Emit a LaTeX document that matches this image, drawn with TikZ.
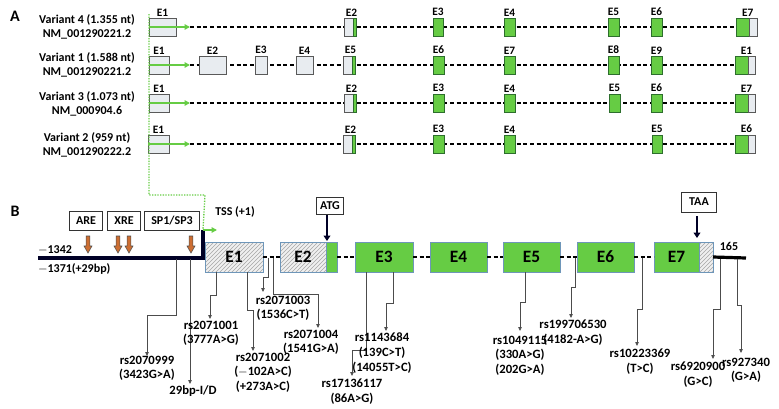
\documentclass[tikz,border=0pt]{standalone}
\usepackage{fontspec}
\setmainfont{Carlito}
\usetikzlibrary{patterns,backgrounds,arrows.meta,calc}
\definecolor{gx}{RGB}{102,204,68}
\definecolor{gb}{RGB}{45,110,45}
\definecolor{lg}{RGB}{232,236,240}
\definecolor{bb}{RGB}{110,150,185}
\definecolor{og}{RGB}{205,110,50}
\tikzset{
  x=0.75pt,y=-0.75pt,
  every node/.style={font=\bfseries\fontsize{9}{10.5}\selectfont, inner sep=0pt, outer sep=0pt},
  exw/.style={draw=gray!70!black, fill=lg, minimum height=18*0.75pt, anchor=west, line width=0.6pt},
  exg/.style={draw=gb, fill=gx, minimum height=18*0.75pt, anchor=west, line width=0.6pt},
  bw/.style={draw=bb, line width=0.7pt, minimum height=30*0.75pt, anchor=west, preaction={fill=gray!12}, pattern=north east lines, pattern color=gray!70, font=\bfseries\fontsize{13}{14}\selectfont},
  bg/.style={draw=bb, line width=0.7pt, fill=gx, minimum height=30*0.75pt, anchor=west, font=\bfseries\fontsize{13}{14}\selectfont},
  lbl/.style={font=\bfseries\fontsize{8.5}{9}\selectfont, anchor=south, yshift=1.5pt},
  intr/.style={line width=1.1pt, dash pattern=on 3pt off 2pt},
  tss/.style={-{Triangle[length=4pt,width=4pt]}, draw=gx, line width=1.4pt},
  lead/.style={draw=gray!60!black, line width=0.6pt, -{Triangle[length=3pt,width=2.6pt]}},
  snp/.style={font=\bfseries\fontsize{9.5}{11}\selectfont, align=center, anchor=north},
  pbox/.style={draw=black!80, fill=white, line width=0.6pt, minimum height=19*0.75pt, font=\bfseries\fontsize{9}{10}\selectfont},
  oarr/.style={draw=black!70, fill=og, line width=0.4pt},
}
\newcommand\ewx[5]{\node[exw, minimum width=(#3-#2)*0.75pt] (#1) at (#2,#4) {}; \node[lbl] at (#1.north) {#5};}
\newcommand\egx[5]{\node[exg, minimum width=(#3-#2)*0.75pt] (#1) at (#2,#4) {}; \node[lbl] at (#1.north) {#5};}
\newcommand\emx[6]{\node[exw, minimum width=(#3-#2)*0.75pt] (#1w) at (#2,#5) {}; \node[exg, minimum width=(#4-#3)*0.75pt] (#1) at (#3,#5) {}; \node[lbl] at ($(#1w.north)!0.5!(#1.north)$) {#6};}
\newcommand\gmx[6]{\node[exg, minimum width=(#3-#2)*0.75pt] (#1) at (#2,#5) {}; \node[exw, minimum width=(#4-#3)*0.75pt] (#1w) at (#3,#5) {}; \node[lbl] at ($(#1.north)!0.5!(#1w.north)$) {#6};}
\begin{document}
\begin{tikzpicture}
\useasboundingbox (0,0) rectangle (779,408);
\node[font=\bfseries\fontsize{12}{13}\selectfont] (A) at (15,16) {A};
\node[font=\bfseries\fontsize{12}{13}\selectfont] (B) at (15,211) {B};
% ---------- panel A ----------
\node[align=center] (v4) at (87,27) {Variant 4 (1.355 nt)\\NM\_001290221.2};
\node[align=center] (v1) at (87,65) {Variant 1 (1.588 nt)\\NM\_001290221.2};
\node[align=center] (v3) at (87,104) {Variant 3 (1.073 nt)\\NM\_000904.6};
\node[align=center] (v2) at (87,145) {Variant 2 (959 nt)\\NM\_001290222.2};
\ewx{r1e1}{149}{176}{27}{E1}
\emx{r1e2}{344}{353}{356}{27}{E2}
\egx{r1e3}{433}{443}{27}{E3}
\egx{r1e4}{504}{515}{27}{E4}
\egx{r1e5}{608}{619}{27}{E5}
\egx{r1e6}{651}{662}{27}{E6}
\gmx{r1e7}{736}{749}{757}{27}{E7}
\coordinate (r1a) at (190,27);
\ewx{r2e1}{149}{169}{65}{E1}
\ewx{r2e2}{199}{226}{65}{E2}
\ewx{r2e3}{255}{267}{65}{E3}
\ewx{r2e4}{296}{313}{65}{E4}
\emx{r2e5}{343}{352}{355}{65}{E5}
\egx{r2e6}{433}{444}{65}{E6}
\egx{r2e7}{504}{515}{65}{E7}
\egx{r2e8}{608}{619}{65}{E8}
\egx{r2e9}{651}{662}{65}{E9}
\gmx{r2e10}{735}{748}{755}{65}{E1}
\coordinate (r2a) at (190,65);
\ewx{r3e1}{149}{169}{103}{E1}
\emx{r3e2}{344}{353}{356}{103}{E2}
\egx{r3e3}{433}{444}{103}{E3}
\egx{r3e4}{504}{515}{103}{E4}
\egx{r3e5}{609}{620}{103}{E5}
\egx{r3e6}{651}{662}{103}{E6}
\gmx{r3e7}{735}{748}{755}{103}{E7}
\coordinate (r3a) at (190,103);
\ewx{r4e1}{148}{169}{144}{E1}
\emx{r4e2}{343}{352}{355}{144}{E2}
\egx{r4e3}{433}{444}{144}{E3}
\egx{r4e4}{504}{515}{144}{E4}
\egx{r4e5}{652}{662}{144}{E5}
\gmx{r4e6}{735}{748}{755}{144}{E6}
\coordinate (r4a) at (190,144);
\begin{scope}[on background layer]
\foreach \r/\l in {1/r1e7,2/r2e10,3/r3e7,4/r4e6}{
  \draw[intr] (r\r a) -- (\l.west);}
\end{scope}
\foreach \r in {1,2,3,4}{\draw[tss] (r\r e1.west) -- (r\r a);}
\coordinate (d0) at (149,14);
\coordinate (d1) at (149,195);
\coordinate (d2) at (205,195);
\coordinate (tssp) at (203,230);
\draw[gx, densely dotted, line width=1pt] (d0) -- (d1) -- (d2) -- (tssp);
% ---------- panel B ----------
\coordinate (p0) at (38,258);
\coordinate (p1) at (203,258);
\draw[line width=2.4pt, black!85!blue] (p0) -- (p1) -- (tssp);
\coordinate (tsse) at (217,230);
\draw[tss] (tssp) -- (tsse);
\node (tsst) at (235,212) {TSS (+1)};
\node[anchor=west] (m1342) at (38,250) {$-$1342};
\node[anchor=west] (m1371) at (38,269) {$-$1371(+29bp)};
\node[pbox, minimum width=33*0.75pt] (are) at (86,221) {ARE};
\node[pbox, minimum width=33*0.75pt] (xre) at (124,221) {XRE};
\node[pbox, minimum width=55*0.75pt] (sp) at (172,221) {SP1/SP3};
\foreach \x in {88,118,129,191}{
  \draw[oarr] (\x-1.8,236) -- (\x+1.8,236) -- (\x+1.8,246) -- (\x+4,246) -- (\x,253) -- (\x-4,246) -- (\x-1.8,246) -- cycle;}
\node[bw, minimum width=58*0.75pt] (b1) at (205,257) {E1};
\node[bw, minimum width=46*0.75pt] (b2) at (280,257) {E2};
\node[bg, minimum width=11*0.75pt] (b2g) at (326,257) {};
\node[bg, minimum width=58*0.75pt] (b3) at (355,257) {E3};
\node[bg, minimum width=57*0.75pt] (b4) at (430,257) {E4};
\node[bg, minimum width=57*0.75pt] (b5) at (503,257) {E5};
\node[bg, minimum width=57*0.75pt] (b6) at (577,257) {E6};
\node[bg, minimum width=45*0.75pt] (b7) at (654,257) {E7};
\node[bw, minimum width=14*0.75pt] (b7w) at (699,257) {};
\coordinate (tail) at (746,258);
\draw[line width=2.4pt] (b7w.east) -- (tail);
\node (n165) at (729,246) {165};
\draw[intr] (b1.east) -- (b2.west);
\draw[intr] (b2g.east) -- (b3.west);
\draw[intr] (b3.east) -- (b4.west);
\draw[intr] (b4.east) -- (b5.west);
\draw[intr] (b5.east) -- (b6.west);
\draw[intr] (b6.east) -- (b7.west);
\node[pbox, minimum width=27*0.75pt, minimum height=17*0.75pt] (atg) at (330,206) {ATG};
\node[pbox, minimum width=35*0.75pt, minimum height=20*0.75pt] (taa) at (699,202) {TAA};
\coordinate (atge) at (327,241);
\coordinate (taae) at (697,238);
\draw[-{Triangle[length=4pt,width=5pt]}, line width=1.8pt, black!85!blue] (327,215) -- (atge);
\draw[-{Triangle[length=4pt,width=5pt]}, line width=1.8pt, black!85!blue] (697,216) -- (taae);
% SNPs
\node[snp] (s1) at (147,356) {rs2070999\\(3423G>A)};
\draw[lead] (176,259) -- (176,315) -- (147,315) -- (s1.north);
\node[snp] (s2) at (193,386) {29bp-I/D};
\draw[lead] (190,259) -- (190,384);
\node[snp] (s3) at (211,321) {rs2071001\\(3777A>G)};
\draw[lead] (216,272) -- (216,295) -- (210,295) -- (210,319);
\node[snp] (s4) at (263,353) {rs2071002\\($-$102A>C)\\(+273A>C)};
\draw[lead] (247,272) -- (247,310) -- (253,310) -- (253,351);
\node[snp] (s5) at (283,296) {rs2071003\\(1536C>T)};
\draw[lead] (268,258) -- (268,277) -- (263,277) -- (263,292);
\node[snp] (s6) at (311,330) {rs2071004\\(1541G>A)};
\draw[lead] (273,258) -- (273,294) -- (318,294) -- (318,328);
\node[snp] (s7) at (352,379) {rs17136117\\(86A>G)};
\draw[lead] (366,272) -- (366,350) -- (352,350) -- (352,376);
\node[snp] (s8) at (382,333) {rs1143684\\(139C>T)\\(14055T>C)};
\draw[lead] (393,272) -- (393,303) -- (386,303) -- (386,331);
\node[snp] (s9) at (520,336) {rs1049115\\(330A>G)\\(202G>A)};
\draw[lead] (525,272) -- (525,302) -- (520,302) -- (520,331);
\node[snp] (s10) at (573,320) {rs199706530\\(4182-A>G)};
\draw[lead] (575,258) -- (575,287) -- (571,287) -- (571,318);
\node[snp] (s11) at (640,349) {rs10223369\\(T>C)};
\draw[lead] (642,258) -- (642,309) -- (637,309) -- (637,346);
\node[snp] (s12) at (698,362) {rs6920900\\(G>C)};
\draw[lead] (720,259) -- (720,309) -- (713,309) -- (713,359);
\node[snp] (s13) at (746,358) {rs927340\\(G>A)};
\draw[lead] (737,259) -- (737,305) -- (741,305) -- (741,353);
\end{tikzpicture}
\end{document}
